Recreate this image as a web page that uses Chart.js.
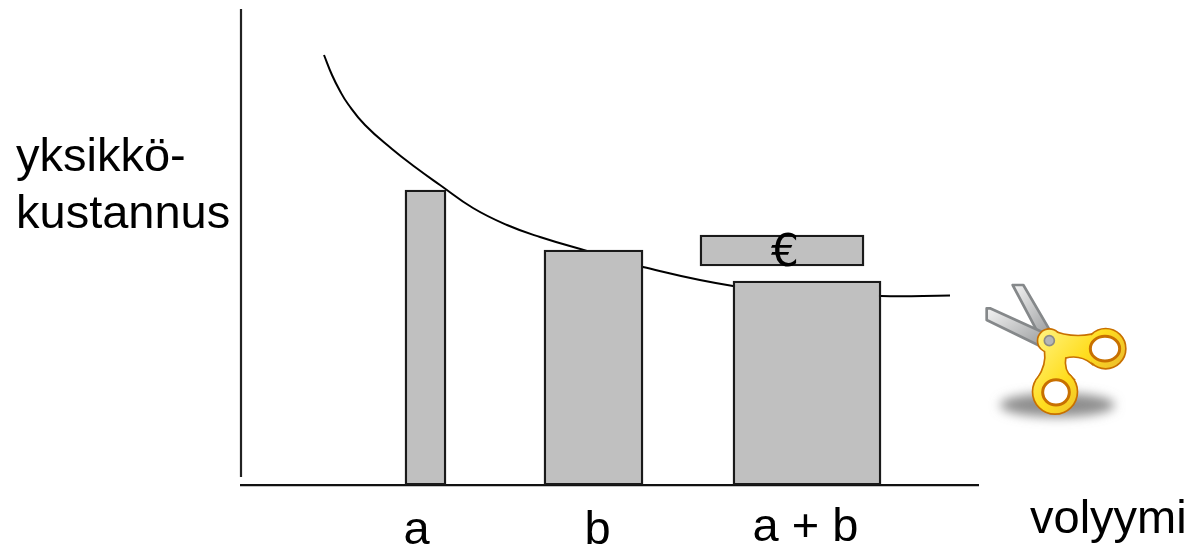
<!DOCTYPE html>
<html><head><meta charset="utf-8">
<script src="https://cdn.jsdelivr.net/npm/chart.js@4"></script>
<style>
html,body{margin:0;padding:0;background:#fff;overflow:hidden}
#wrap{position:relative;width:1195px;height:550px}
#c{position:absolute;left:0;top:0}
#icon{position:absolute;left:970px;top:270px}
</style></head><body>
<div id="wrap">
<canvas id="c" width="1195" height="550"></canvas>
<svg id="icon" width="170" height="160" viewBox="0 0 510 480" xmlns="http://www.w3.org/2000/svg">
<defs>
<filter id="bl" x="-30%" y="-80%" width="160%" height="260%"><feGaussianBlur stdDeviation="16"/></filter>
<linearGradient id="st" x1="0" y1="0" x2="1" y2="1"><stop offset="0" stop-color="#f4f4f4"/><stop offset="1" stop-color="#9a9c9e"/></linearGradient>
<linearGradient id="go" gradientUnits="userSpaceOnUse" x1="210" y1="190" x2="460" y2="400"><stop offset="0" stop-color="#fff27a"/><stop offset=".45" stop-color="#ffdd1e"/><stop offset="1" stop-color="#dfa838"/></linearGradient>
<g id="body">
<circle cx="407" cy="236" r="58"/>
<circle cx="255" cy="365" r="65"/>
<circle cx="238" cy="212" r="33"/>
<path d="M238,180 Q300,208 365,195 L365,278 Q330,250 285,262 Q278,300 305,325 L205,325 Q232,285 226,244 Z"/>
</g>
</defs>
<ellipse cx="262" cy="405" rx="172" ry="36" fill="#8e8e8e" filter="url(#bl)"/>
<path d="M128,45 L160,45 L245,190 L205,190 Z" fill="url(#st)" stroke="#85888a" stroke-width="8" stroke-linejoin="round"/>
<path d="M50,115 L60,115 L225,190 L210,228 L50,150 Z" fill="url(#st)" stroke="#85888a" stroke-width="8" stroke-linejoin="round"/>
<use href="#body" fill="#c87000" stroke="#c87000" stroke-width="10"/>
<use href="#body" fill="url(#go)"/>
<ellipse cx="405" cy="236" rx="44" ry="37" fill="#fff" stroke="#c87000" stroke-width="9"/>
<ellipse cx="258" cy="367" rx="40" ry="38" fill="#fff" stroke="#c87000" stroke-width="9"/>
<circle cx="238" cy="212" r="15" fill="#b4b6b8" stroke="#8c8c86" stroke-width="5"/>
</svg>
</div>
<script>
const barLabels = ['a', 'b', 'a + b'];
const barLeft = [164, 303, 492, 459];
const barRight = [205, 402, 640, 623];
const barLow = [0, 0, 0, 219];
const barHigh = [295, 235, 204, 250];
const curveX = [83, 91, 99, 107, 124, 151, 174, 199, 232, 266, 299, 346, 402, 492, 559, 640, 709];
const curveY = [430, 410, 394, 381, 360, 336, 318, 300, 277, 260, 248, 234, 218, 199, 193, 189, 189.5];
const tickValues = [175.5, 356.5, 564.5];
const yAxisX = [0, 0];
const yAxisY = [8, 476];
const yTitleLines = ['yksikkö-', 'kustannus'];
const xTitle = 'volyymi';
const euroLabel = '€';

const GREY = '#c0c0c0', FONT = '"Liberation Sans", Arial, sans-serif';

const barSets = barLeft.map((l, i) => ({
  type: 'bar',
  order: 1,
  grouped: false,
  barThickness: barRight[i] - l,
  backgroundColor: GREY,
  borderColor: '#1a1a1a',
  borderWidth: 2.4,
  borderSkipped: false,
  data: [{ x: (l + barRight[i]) / 2, y: [barLow[i], barHigh[i]] }]
}));

const textPlugin = {
  id: 'texts',
  afterDatasetsDraw(chart) {
    const { ctx } = chart;
    ctx.save();
    ctx.fillStyle = '#000';
    ctx.textBaseline = 'alphabetic';
    ctx.textAlign = 'left';
    ctx.font = '47px ' + FONT;
    ctx.fillText(yTitleLines[0], 16, 171);
    ctx.fillText(yTitleLines[1], 16, 228);
    ctx.fillText(xTitle, 1030, 533);
    const sx = chart.scales.x, sy = chart.scales.y;
    ctx.textAlign = 'center';
    ctx.font = '44px "DejaVu Sans", sans-serif';
    ctx.fillText(euroLabel, sx.getPixelForValue((barLeft[3] + barRight[3]) / 2 + 3), sy.getPixelForValue(barLow[3]));
    ctx.restore();
  }
};

new Chart(document.getElementById('c'), {
  data: {
    datasets: [
      ...barSets,
      { type: 'line', order: 2, data: curveX.map((x, i) => ({ x, y: curveY[i] })),
        borderColor: '#000', borderWidth: 2, pointRadius: 0, fill: false,
        tension: 0.45, clip: false },
      { type: 'line', order: 0, data: yAxisX.map((x, i) => ({ x, y: yAxisY[i] })),
        borderColor: '#222', borderWidth: 2.2, pointRadius: 0, fill: false, clip: false }
    ]
  },
  options: {
    responsive: false,
    animation: false,
    layout: { padding: { left: 241, right: 217, top: 9, bottom: 0 } },
    plugins: { legend: { display: false }, tooltip: { enabled: false }, title: { display: false } },
    scales: {
      x: {
        type: 'linear', min: 0, max: 737, offset: false,
        grid: { display: false, drawTicks: false },
        border: { display: true, color: '#111', width: 2.2 },
        afterBuildTicks: s => { s.ticks = tickValues.map(value => ({ value })); },
        afterFit: s => { s.height = 65; },
        ticks: {
          autoSkip: false, maxRotation: 0, minRotation: 0, padding: 21, color: '#000',
          callback: (v, i) => barLabels[i],
          font: c => ({ family: FONT, size: 47, lineHeight: c.index === 2 ? '44px' : '50px' })
        }
      },
      y: { type: 'linear', min: 0, max: 476, display: false }
    }
  },
  plugins: [textPlugin]
});
</script>
</body></html>
